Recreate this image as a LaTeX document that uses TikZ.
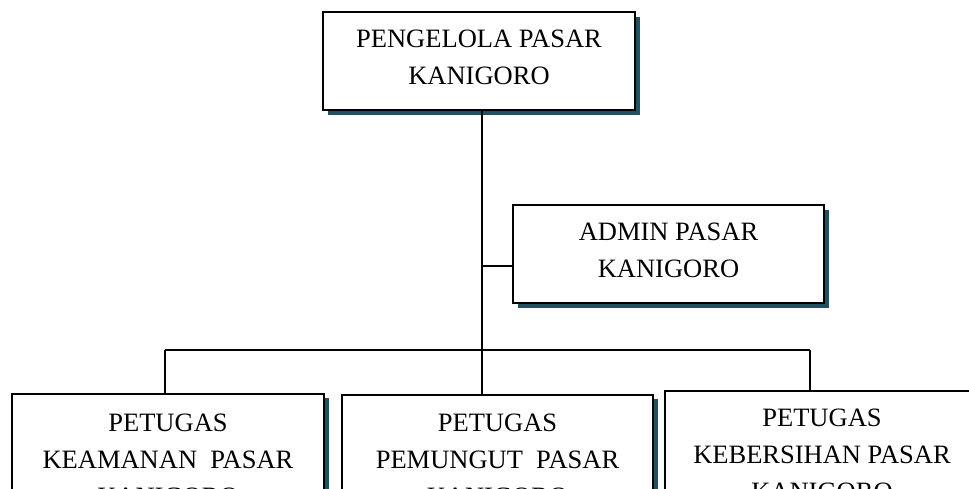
\documentclass[tikz,border=0pt]{standalone}
\usepackage{fontspec}
\setmainfont{Liberation Serif}
\usetikzlibrary{shadows}
\definecolor{shadowteal}{RGB}{33,82,98}
\tikzset{
  unit/.style={draw, line width=1.6pt, fill=white, align=center,
    font=\fontsize{26.5}{37}\selectfont,
    drop shadow={shadow xshift=4.5pt, shadow yshift=-4.5pt, fill=shadowteal, opacity=1}},
  link/.style={line width=2.2pt}
}

\begin{document}
\begin{tikzpicture}[x=1pt, y=-1pt]
\clip (0,0) rectangle (969,488);
\node[unit, minimum width=312pt, minimum height=98pt, text depth=8pt] (pengelola) at (479,61) {PENGELOLA PASAR\\KANIGORO};
\node[unit, minimum width=311pt, minimum height=98pt, text depth=8pt] (admin) at (668.5,254) {ADMIN PASAR\\KANIGORO};
\node[unit, anchor=north, minimum width=312pt, inner ysep=20pt] (keamanan) at (168,393) {PETUGAS\\KEAMANAN~~PASAR\\KANIGORO};
\node[unit, anchor=north, minimum width=311pt, inner ysep=19pt] (pemungut) at (497.5,394) {PETUGAS\\PEMUNGUT~~PASAR\\KANIGORO};
\node[unit, anchor=north, minimum width=314pt, inner ysep=18pt] (kebersihan) at (822,390) {PETUGAS\\KEBERSIHAN PASAR\\KANIGORO};
\coordinate (hub) at (482,350);
\coordinate (dropL) at (165,350);
\coordinate (dropR) at (810,350);
\coordinate (adminin) at ([yshift=-12pt]admin.west);

\path[link]
    (pengelola.south -| hub) edge (hub)
    (adminin -| hub) edge (adminin)
    (dropL) edge (dropR)
    (dropL) edge (dropL |- keamanan.north)
    (hub) edge (hub |- pemungut.north)
    (dropR) edge (dropR |- kebersihan.north);
\end{tikzpicture}
\end{document}
